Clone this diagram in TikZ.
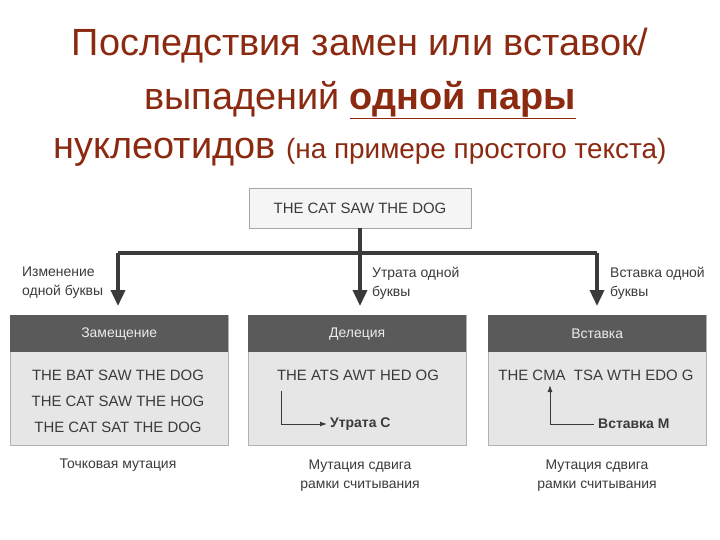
\documentclass[tikz,border=0pt]{standalone}
\usepackage{fontspec}
\setmainfont{Liberation Sans}
\usetikzlibrary{arrows.meta}
\definecolor{tred}{HTML}{8B2A10}
\definecolor{hdr}{HTML}{5A5A5A}
\definecolor{bodyc}{HTML}{E6E6E6}
\definecolor{ln}{HTML}{3A3A3A}
\tikzset{
 titletxt/.style={text=tred,font=\fontsize{38}{42}\selectfont,inner sep=0pt},
 topbox/.style={draw=gray!70,fill=gray!8,minimum width=222bp,minimum height=40bp,font=\fontsize{15}{18}\selectfont,text=ln},
 bodybox/.style={draw=gray!60,fill=bodyc,minimum width=218bp,minimum height=130bp,anchor=north west,inner sep=0pt},
 headbox/.style={fill=hdr,minimum width=218bp,minimum height=37bp,anchor=north west,text=gray!15,font=\fontsize{14}{16}\selectfont,inner sep=0pt},
 seqtxt/.style={font=\fontsize{15}{18}\selectfont,text=ln,inner sep=0pt},
 labtxt/.style={font=\fontsize{14}{19}\selectfont,text=ln,align=left,inner sep=0pt},
 captxt/.style={font=\fontsize{14}{19}\selectfont,text=ln,align=center,inner sep=0pt},
 mainarr/.style={draw=ln,line width=3.5bp,-{Triangle[length=16bp,width=14bp]}},
 thinarr/.style={draw=ln,line width=1bp,-{Latex[length=7bp,width=5bp]}}
}
\begin{document}
\begin{tikzpicture}[x=1bp,y=-1bp]
\useasboundingbox[fill=white] (0,0) rectangle (720,540);
\node[titletxt] (t1) at (360,46) {Последствия замен или вставок/};
\node[titletxt] (t2) at (360,100) {выпадений \underline{\textbf{одной пары}}};
\node[titletxt] (t3) at (360,152) {нуклеотидов {\fontsize{28}{32}\selectfont(на примере простого текста)}};
\node[topbox] (top) at (360,208) {THE CAT SAW THE DOG};
\coordinate (j) at (360,253);
\coordinate (l) at (118,253);
\coordinate (r) at (597,253);
\node[bodybox] (b1) at (10,315) {};
\node[bodybox] (b2) at (248,315) {};
\node[bodybox] (b3) at (488,315) {};
\node[headbox] (h1) at (10,315) {Замещение};
\node[headbox] (h2) at (248,315) {Делеция};
\node[headbox] (h3) at (488,315) {Вставка};
\draw[draw=ln,line width=3.5bp] (top.south) -- (j);
\draw[draw=ln,line width=3.5bp] (l) -- (r);
\draw[mainarr] (l) -- (118,306);
\draw[mainarr] (j) -- (360,306);
\draw[mainarr] (r) -- (597,306);
\node[labtxt,anchor=west] (la) at (22,283) {Изменение\\одной буквы};
\node[labtxt,anchor=west] (lb) at (372,283) {Утрата одной\\буквы};
\node[labtxt,anchor=west] (lc) at (610,283) {Вставка одной\\буквы};
\node[seqtxt] (s1) at (118,375) {THE BAT SAW THE DOG};
\node[seqtxt] (s2) at (118,401) {THE CAT SAW THE HOG};
\node[seqtxt] (s3) at (118,427) {THE CAT SAT THE DOG};
\node[seqtxt] (d1) at (358,375) {THE ATS AWT HED OG};
\node[seqtxt] (i1) at (596,375) {THE CMA\ \ TSA WTH EDO G};
\node[labtxt,font=\bfseries\fontsize{14}{16}\selectfont,anchor=west] (uc) at (330,424) {Утрата С};
\node[labtxt,font=\bfseries\fontsize{14}{16}\selectfont,anchor=west] (vm) at (598,424) {Вставка М};
\draw[thinarr] (281,391) |- ([xshift=-3bp]uc.west);
\draw[thinarr] ([xshift=-4bp]vm.west) -| (550,385);
\node[captxt] (c1) at (118,465) {Точковая мутация};
\node[captxt] (c2) at (360,476) {Мутация сдвига\\рамки считывания};
\node[captxt] (c3) at (597,476) {Мутация сдвига\\рамки считывания};
\end{tikzpicture}
\end{document}
